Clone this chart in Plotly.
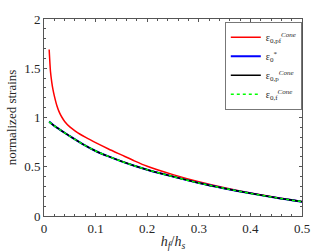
import plotly.graph_objects as go

x_red = [0.01, 0.0125, 0.015, 0.0175, 0.02, 0.025, 0.03, 0.035, 0.04, 0.05, 0.06, 0.07, 0.08, 0.09,
         0.1, 0.125, 0.15, 0.175, 0.2, 0.25, 0.3, 0.35, 0.4, 0.45, 0.5]
y_red = [1.69, 1.47, 1.36, 1.28, 1.22, 1.12, 1.05, 1.0, 0.96, 0.905, 0.865, 0.83, 0.80, 0.772,
         0.745, 0.68, 0.62, 0.56, 0.505, 0.42, 0.348, 0.287, 0.234, 0.188, 0.146]

x_base = [0.01, 0.02, 0.03, 0.04, 0.05, 0.075, 0.1, 0.125, 0.15, 0.175, 0.2, 0.25, 0.3, 0.35, 0.4, 0.45, 0.5]
y_star = [0.96, 0.915, 0.88, 0.845, 0.81, 0.73, 0.66, 0.605, 0.555, 0.51, 0.47, 0.40, 0.335, 0.28, 0.23, 0.185, 0.145]
y_p = [0.955, 0.915, 0.88, 0.845, 0.81, 0.73, 0.66, 0.605, 0.555, 0.51, 0.47, 0.40, 0.335, 0.28, 0.23, 0.185, 0.145]
y_f = [0.955, 0.915, 0.88, 0.845, 0.81, 0.73, 0.66, 0.605, 0.555, 0.51, 0.47, 0.40, 0.335, 0.28, 0.23, 0.185, 0.145]

names = ["ε<sub>0,pf</sub><sup><i>Cone</i></sup>", "ε<sub>0</sub><sup>*</sup>",
         "ε<sub>0,p</sub><sup><i>Cone</i></sup>", "ε<sub>0,f</sub><sup><i>Cone</i></sup>"]

FONT = "Liberation Serif"

fig = go.Figure()
fig.add_trace(go.Scatter(x=x_red, y=y_red, mode="lines", name=names[0],
                         line=dict(color="#ff0000", width=1.5, shape="spline", smoothing=0.6)))
fig.add_trace(go.Scatter(x=x_base, y=y_star, mode="lines", name=names[1],
                         line=dict(color="#0000ff", width=2, shape="spline", smoothing=0.8)))
fig.add_trace(go.Scatter(x=x_base, y=y_p, mode="lines", name=names[2],
                         line=dict(color="#000000", width=1.5, shape="spline", smoothing=0.8)))
fig.add_trace(go.Scatter(x=x_base, y=y_f, mode="lines", name=names[3],
                         line=dict(color="#00ff00", width=1.5, dash="dot", shape="spline", smoothing=0.8)))

axis_common = dict(showgrid=False, zeroline=False, showline=True, linecolor="#555555",
                   linewidth=0.8, mirror="ticks", ticks="inside", ticklen=3, automargin=False,
                   tickcolor="#555555", tickfont=dict(family=FONT, size=13, color="#262626"))

fig.update_xaxes(range=[0, 0.5], tickvals=[0, 0.1, 0.2, 0.3, 0.4, 0.5],
                 ticktext=["0", "0.1", "0.2", "0.3", "0.4", "0.5"],
                 minor=dict(dtick=0.02, ticks="inside", ticklen=2, tickcolor="#555555"),
                 title=dict(text="<i>h<sub>f</sub></i>/<i>h<sub>s</sub></i>",
                            font=dict(family=FONT, size=14, color="#262626"), standoff=2),
                 **axis_common)
fig.update_yaxes(range=[0, 2], tickvals=[0, 0.5, 1, 1.5, 2],
                 ticktext=["0", "0.5", "1", "1.5", "2"],
                 minor=dict(dtick=0.1, ticks="inside", ticklen=2, tickcolor="#555555"),
                 title=dict(text="normalized strains",
                            font=dict(family=FONT, size=13, color="#262626"), standoff=4),
                 **axis_common)

fig.update_layout(width=334, height=251, margin=dict(l=44, r=32, t=19, b=35),
                  paper_bgcolor="white", plot_bgcolor="white", showlegend=True,
                  legend=dict(x=1, y=0.985, xanchor="right", yanchor="top",
                              bgcolor="white", bordercolor="#555555", borderwidth=0.8,
                              font=dict(family=FONT, size=10, color="#262626"),
                              tracegroupgap=0, itemwidth=30))

fig.write_html("out.html", config={"displayModeBar": False},
               post_script="document.body.style.margin='0';document.body.style.overflow='hidden';")
